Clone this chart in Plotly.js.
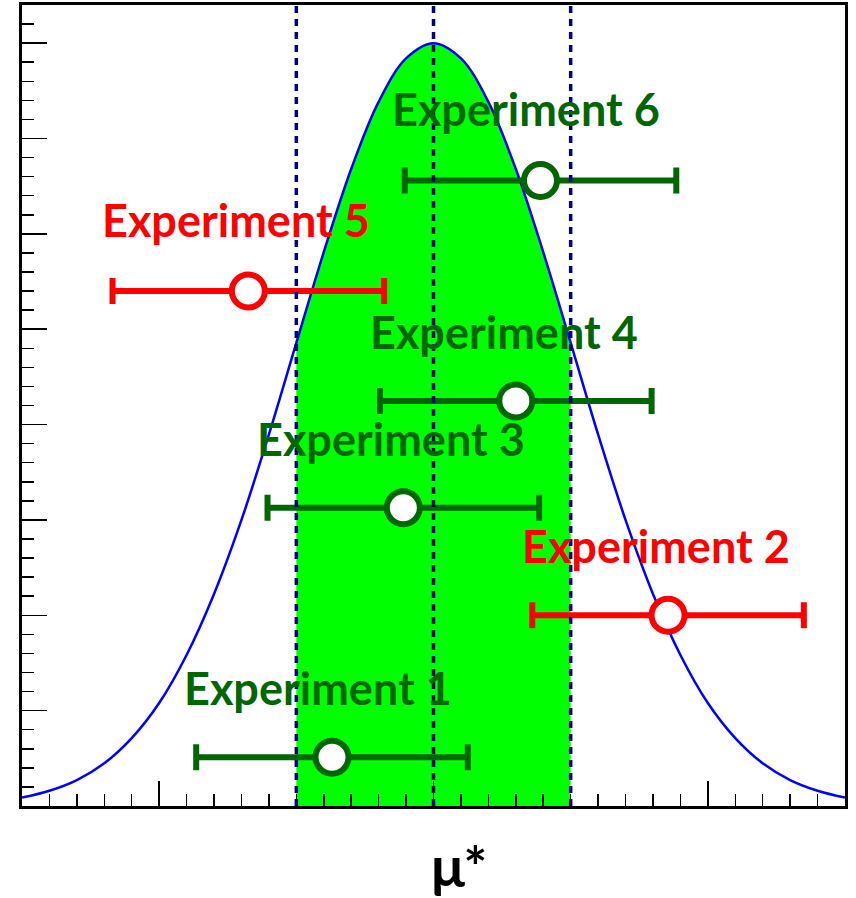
<!DOCTYPE html>
<html>
<head>
<meta charset="utf-8">
<script src="https://cdn.plot.ly/plotly-3.0.1.min.js"></script>
<style>
  html, body { margin: 0; padding: 0; background: #fff; }
  #chart { width: 856px; height: 898px; }
</style>
</head>
<body>
<div id="chart"></div>
<script>
// gaussian curve (mu* in units of sigma)
const curveX = [-3.0, -2.8, -2.6, -2.4, -2.2, -2.0, -1.8, -1.6, -1.4, -1.2, -1.0, -0.8, -0.6, -0.4, -0.2, 0,
  0.2, 0.4, 0.6, 0.8, 1.0, 1.2, 1.4, 1.6, 1.8, 2.0, 2.2, 2.4, 2.6, 2.8, 3.0];
const curveY = [0.011, 0.020, 0.034, 0.056, 0.089, 0.135, 0.198, 0.278, 0.375, 0.487, 0.607, 0.726, 0.835, 0.923, 0.980, 1.0,
  0.980, 0.923, 0.835, 0.726, 0.607, 0.487, 0.375, 0.278, 0.198, 0.135, 0.089, 0.056, 0.034, 0.020, 0.011];

const mean = 0;
const sigma = 1;

// experiments
const expNames = ['Experiment 1', 'Experiment 2', 'Experiment 3', 'Experiment 4', 'Experiment 5', 'Experiment 6'];
const expX = [-0.74, 1.71, -0.22, 0.60, -1.35, 0.78];
const expErr = [0.99, 0.99, 0.99, 0.99, 0.99, 0.99];
const expY = [0.064, 0.250, 0.391, 0.531, 0.675, 0.820];
const expGood = [true, false, true, true, false, true];
const labelX = [-1.83, 0.63, -1.30, -0.48, -2.43, -0.32];
const labelY = [0.155, 0.341, 0.481, 0.622, 0.768, 0.914];

const green = '#006600';
const red = '#ff0000';

// green band = part of the curve inside +-1 sigma
const bandX = [], bandY = [];
curveX.forEach((x, i) => {
  if (x >= mean - sigma && x <= mean + sigma) { bandX.push(x); bandY.push(curveY[i]); }
});

const pick = (arr, good) => arr.filter((_, i) => expGood[i] === good);

const expTrace = (good, color) => ({
  x: pick(expX, good),
  y: pick(expY, good),
  type: 'scatter',
  mode: 'markers',
  marker: { symbol: 'circle', size: 33, color: '#ffffff', line: { color: color, width: 6 } },
  error_x: { type: 'data', array: pick(expErr, good), color: color, thickness: 6, width: 13 },
  hoverinfo: 'skip'
});

const data = [
  {
    x: bandX, y: bandY, type: 'scatter', mode: 'lines',
    line: { width: 0, shape: 'spline' }, fill: 'tozeroy', fillcolor: '#00ff00', hoverinfo: 'skip'
  },
  {
    x: curveX, y: curveY, type: 'scatter', mode: 'lines',
    line: { color: '#0000ff', width: 2.5, shape: 'spline' }, hoverinfo: 'skip'
  },
  expTrace(true, green),
  expTrace(false, red)
];

const shapes = [mean - sigma, mean, mean + sigma].map(x => ({
  type: 'line', xref: 'x', yref: 'paper', x0: x, x1: x, y0: 0, y1: 1,
  line: { color: '#000080', width: 3.5, dash: '7px,6px' }, layer: 'above'
}));

const annotations = expNames.map((t, i) => ({
  text: t, x: labelX[i], y: labelY[i], xref: 'x', yref: 'y',
  xanchor: 'left', yanchor: 'middle', showarrow: false,
  font: { family: 'Lato, "DejaVu Sans", sans-serif', size: 45, weight: 700, color: expGood[i] ? green : red }
}));

annotations.push({
  text: 'μ*', xref: 'paper', yref: 'paper', x: 0.531, y: -0.074,
  xanchor: 'center', yanchor: 'middle', showarrow: false,
  font: { family: 'Lato, "DejaVu Sans", sans-serif', size: 56, weight: 700, color: '#000' }
});

const layout = {
  width: 856, height: 898,
  margin: { l: 22, r: 11, t: 5, b: 92 },
  paper_bgcolor: '#fff', plot_bgcolor: '#fff',
  showlegend: false,
  xaxis: {
    range: [-3, 3], showgrid: false, zeroline: false, showticklabels: false,
    ticks: 'inside', tick0: 0, dtick: 2, ticklen: 25, tickwidth: 1.5, tickcolor: '#000',
    minor: { ticks: 'inside', dtick: 0.2, ticklen: 12, tickwidth: 1.5, tickcolor: '#000', showgrid: false },
    showline: true, linecolor: '#000', linewidth: 3, mirror: true
  },
  yaxis: {
    range: [0, 1.05], showgrid: false, zeroline: false, showticklabels: false,
    ticks: 'inside', tick0: 0, dtick: 0.125, ticklen: 25, tickwidth: 1.5, tickcolor: '#000',
    minor: { ticks: 'inside', dtick: 0.025, ticklen: 12, tickwidth: 1.5, tickcolor: '#000', showgrid: false },
    showline: true, linecolor: '#000', linewidth: 3, mirror: true
  },
  shapes: shapes,
  annotations: annotations
};

Plotly.newPlot('chart', data, layout, { staticPlot: true });
</script>
</body>
</html>
